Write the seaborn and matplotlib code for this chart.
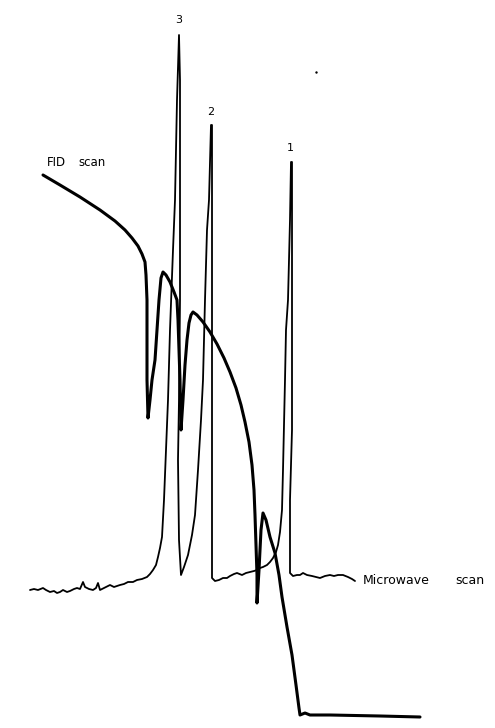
import matplotlib
matplotlib.use("Agg")
import matplotlib.pyplot as plt
import seaborn as sns
import pandas as pd

sns.set_theme(style="white")
plt.rcParams["font.family"] = ["DejaVu Sans"]

# Chart-recorder traces: retention position along the chart and pen deflection
# (deflection measured downward from the top of the chart paper).
microwave_pos = [30, 34, 38, 43, 46, 50, 54, 57, 60, 63, 67, 70, 74, 77, 80, 83,
                 85, 89, 93, 96, 98, 100, 104, 110, 114, 120, 124, 128, 133,
                 137, 142, 147, 150, 153, 156, 158, 160, 162, 164, 166, 168, 170,
                 173, 175, 177, 179,
                 180, 180, 180, 179, 178, 179, 181,
                 184, 188, 192, 195, 198, 201, 203, 205, 207, 209, 211,
                 212, 212, 212, 212, 215, 219, 223, 227, 230, 234, 237, 242, 246,
                 250, 254, 257, 260, 263, 267, 270, 273, 276, 278, 280, 282, 283,
                 285, 286, 288, 290, 291,
                 292, 292, 292, 290, 290, 293, 297, 300, 303, 307, 312, 316, 320,
                 325, 330, 334, 338, 343, 348, 352, 355]
microwave_defl = [590, 589, 590, 588, 590, 592, 591, 593, 592, 590, 592, 591, 589,
                  588, 589, 582, 587, 589, 590, 588, 583, 590, 588, 585, 587, 585,
                  584, 582, 582, 580, 579, 577, 574, 570, 565, 557, 548, 537, 500,
                  450, 400, 330, 250, 200, 100, 35,
                  80, 200, 300, 400, 460, 540, 575,
                  567, 555, 535, 515, 470, 420, 380, 300, 230, 200, 125,
                  125, 300, 500, 578, 581, 580, 578, 578, 576, 574, 573, 575, 573,
                  572, 571, 570, 568, 567, 565, 562, 558, 552, 545, 532, 510, 470,
                  380, 330, 300, 220, 162,
                  162, 300, 430, 500, 573, 576, 575, 575, 573, 575, 576, 577, 578,
                  576, 575, 576, 575, 575, 577, 579, 581]

fid_pos = [43, 60, 80, 100, 115, 125, 132, 138, 142, 145, 146, 147, 147, 147, 148,
           150, 152, 155, 157, 159, 161, 163, 166, 170, 174, 177, 178, 179, 180,
           181,
           183, 185, 187, 189, 191, 193, 197, 203, 210, 217, 224, 230, 236, 241,
           245, 249, 252, 254, 255, 256, 257, 257,
           259, 261, 263, 266, 270, 275, 279, 282, 287, 292, 296, 299, 300,
           305, 310, 330, 380, 420]
fid_defl = [175, 185, 197, 210, 221, 230, 238, 246, 254, 262, 275, 300, 340, 380,
            418,
            400, 380, 360, 330, 300, 278, 272, 275, 282, 292, 300, 320, 350, 380,
            430,
            400, 365, 340, 323, 315, 312, 315, 322, 332, 344, 358, 372, 388, 405,
            422, 442, 465, 490, 515, 545, 575, 603,
            570, 530, 513, 520, 537, 553, 575, 597, 627, 655, 685, 708, 715,
            713, 715, 715, 716, 717]

peak_labels = ["3", "2", "1"]
peak_label_pos = [179, 211, 290]
peak_label_defl = [20, 112, 148]

microwave = pd.DataFrame({"pos": microwave_pos, "defl": microwave_defl})
fid = pd.DataFrame({"pos": fid_pos, "defl": fid_defl})

fig = plt.figure(figsize=(4.95, 7.28), dpi=100)
ax = fig.add_axes([0, 0, 1, 1])

sns.lineplot(data=microwave, x="pos", y="defl", sort=False, estimator=None,
             color="black", linewidth=1.3, solid_joinstyle="round", ax=ax)
sns.lineplot(data=fid, x="pos", y="defl", sort=False, estimator=None,
             color="black", linewidth=2.2, solid_joinstyle="round", ax=ax)

for lab, px, py in zip(peak_labels, peak_label_pos, peak_label_defl):
    ax.text(px, py, lab, ha="center", va="center", fontsize=8, color="black")

ax.text(47, 163, "FID", ha="left", va="center", fontsize=8.5, color="black")
ax.text(78, 163, "scan", ha="left", va="center", fontsize=8.5, color="black")
ax.text(363, 580, "Microwave", ha="left", va="center", fontsize=9,
        color="black")
ax.text(455, 580, "scan", ha="left", va="center", fontsize=9, color="black")
ax.scatter([316], [72], s=3, color="black", linewidths=0)

ax.set_xlim(0, 495)
ax.set_ylim(728, 0)
ax.set_axis_off()
fig.patch.set_facecolor("white")

fig.savefig("out.png", dpi=100, facecolor="white")
